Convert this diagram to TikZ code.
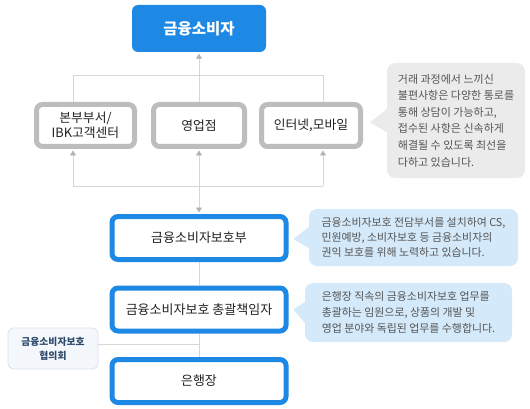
\documentclass[tikz,border=0pt]{standalone}
\usepackage{fontspec}
\setmainfont{Noto Sans CJK KR}
\usetikzlibrary{arrows.meta,calc}
\definecolor{bblue}{HTML}{1E88E5}
\definecolor{grayb}{HTML}{BDBDBD}
\definecolor{linegray}{HTML}{D6D6D6}
\definecolor{arrowgray}{HTML}{B3B3B3}
\definecolor{textdark}{HTML}{222222}
\definecolor{textgray}{HTML}{555555}
\definecolor{calloutgray}{HTML}{EBEBEB}
\definecolor{calloutblue}{HTML}{D4E9F9}
\definecolor{councilfill}{HTML}{F4F8FC}
\definecolor{councildraw}{HTML}{D8E2EC}
\definecolor{counciltext}{HTML}{2E4A6B}
\begin{document}
\begin{tikzpicture}[x=1pt,y=-1pt,
  topbox/.style={fill=bblue, rounded corners=6pt, minimum width=134pt, minimum height=47pt,
    text=white, font=\fontsize{15.5}{18}\selectfont\bfseries, inner sep=0pt},
  bluebox/.style={draw=bblue, line width=5pt, fill=white, rounded corners=6pt,
    minimum width=174pt, minimum height=43pt, text=textdark,
    font=\fontsize{13}{15}\selectfont, inner sep=0pt},
  graybox/.style={draw=grayb, line width=5pt, fill=white, rounded corners=6pt,
    minimum height=42pt, text=textdark, align=center,
    font=\fontsize{12.8}{15}\selectfont, inner sep=0pt},
  callout/.style={rounded corners=8pt, text=textgray, align=left, inner sep=0pt},
  council/.style={draw=councildraw, line width=0.8pt, fill=councilfill, rounded corners=6pt,
    minimum width=90pt, minimum height=41pt, text=counciltext, align=center,
    font=\fontsize{9.8}{14}\selectfont\bfseries, inner sep=0pt},
  conn/.style={draw=linegray, line width=0.8pt},
  tipa/.tip={Triangle[width=6pt,length=5pt,color=arrowgray]},
  arr/.style={conn, -tipa, shorten >=1.5pt},
  arrboth/.style={conn, tipa-tipa, shorten >=1.5pt, shorten <=1.5pt}]
\useasboundingbox (0,0) rectangle (530,409);

% nodes
\node[topbox] (top) at (199,28.5) {금융소비자};
\node[graybox, minimum width=98pt] (b1) at (85.5,125.5) {본부부서/\\IBK고객센터};
\node[graybox, minimum width=91pt] (b2) at (199,125.5) {영업점};
\node[graybox, minimum width=99pt] (b3) at (311,125.5) {인터넷,모바일};
\node[bluebox] (dept) at (199,238) {금융소비자보호부};
\node[bluebox] (chief) at (199,309.5) {금융소비자보호 총괄책임자};
\node[bluebox] (ceo) at (199,381) {은행장};
\node[council] (cncl) at (53,348.5) {금융소비자보호\\협의회};

\node[callout, fill=calloutgray, minimum width=138pt, minimum height=115pt,
  font=\fontsize{11}{16.6}\selectfont] (c1) at (456,120.5)
  {거래 과정에서 느끼신\\불편사항은 다양한 통로를\\통해 상담이 가능하고,\\접수된 사항은 신속하게\\해결될 수 있도록 최선을\\다하고 있습니다.};
\node[callout, fill=calloutblue, minimum width=209pt, minimum height=57pt,
  font=\fontsize{10.9}{15.3}\selectfont] (c2) at (413.5,237.5)
  {금융소비자보호 전담부서를 설치하여 CS,\\민원예방, 소비자보호 등 금융소비자의\\권익 보호를 위해 노력하고 있습니다.};
\node[callout, fill=calloutblue, minimum width=207pt, minimum height=59pt,
  font=\fontsize{10.9}{16}\selectfont] (c3) at (408.5,312.5)
  {은행장 직속의 금융소비자보호 업무를\\총괄하는 임원으로, 상품의 개발 및\\영업 분야와 독립된 업무를 수행합니다.};

% callout pointers
\fill[calloutgray] ($(c1.west)+(0.5,-12)$) -- ($(b3.east)+(7,-3)$) -- ($(c1.west)+(0.5,12)$) -- cycle;
\fill[calloutblue] ($(c2.west)+(0.5,-11)$) -- ($(dept.east)+(5,1)$) -- ($(c2.west)+(0.5,11)$) -- cycle;
\fill[calloutblue] ($(c3.west)+(0.5,-11)$) -- ($(chief.east)+(5,0)$) -- ($(c3.west)+(0.5,11)$) -- cycle;

% junction coordinates
\coordinate (jl) at (73,75);
\coordinate (jr) at (323,75);
\coordinate (kl) at (73,186);
\coordinate (kr) at (323,186);
\coordinate (lj) at (199,344);

% upper connectors
\draw[conn] (b1.north -| jl) -- (jl) -- (jr) -- (b3.north -| jr);
\draw[arr] (b2.north) -- (top.south);

% lower connectors
\draw[conn] (kl) -- (kr);
\draw[arr] (kl) -- (b1.south -| kl);
\draw[arr] (kr) -- (b3.south -| kr);
\draw[arrboth] (b2.south) -- (dept.north);

% bottom chain
\draw[conn] (dept.south) -- (chief.north);
\draw[conn] (chief.south) -- (ceo.north);
\draw[conn] (cncl.east |- lj) -- (lj);
\end{tikzpicture}
\end{document}
